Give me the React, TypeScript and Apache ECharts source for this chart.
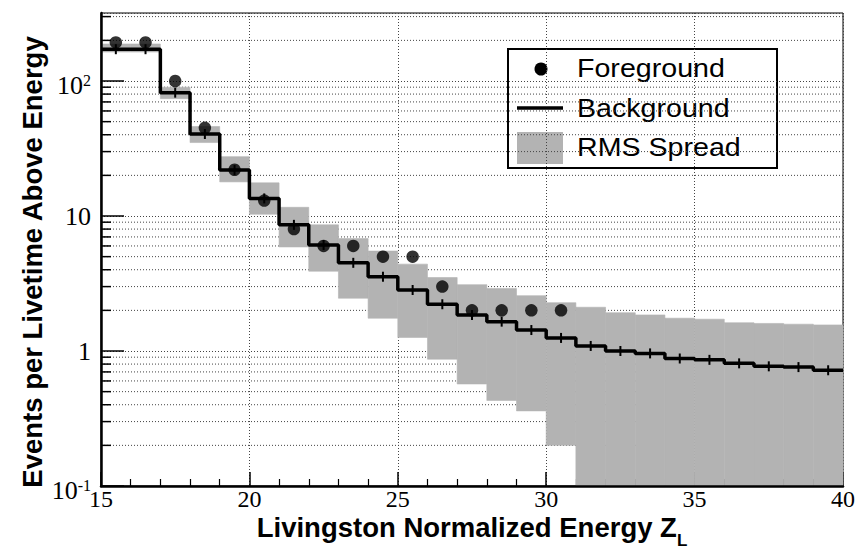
import React, { useEffect, useRef } from "react";
import * as echarts from "echarts";

// ---- data ----
const binStart = [15, 16, 17, 18, 19, 20, 21, 22, 23, 24, 25, 26, 27, 28, 29, 30, 31, 32, 33, 34, 35, 36, 37, 38, 39];
const binWidth = 1;
const background = [172, 172, 82, 40.5, 21.9, 13.5, 8.6, 6.1, 4.5, 3.55, 2.83, 2.22, 1.85, 1.65, 1.43, 1.25, 1.09, 1.0, 0.96, 0.88, 0.86, 0.81, 0.77, 0.76, 0.72];
const rmsHigh = [188, 188, 90, 46, 27.5, 17.6, 11.6, 8.6, 6.8, 5.5, 4.4, 3.5, 3.1, 2.9, 2.57, 2.28, 2.11, 1.92, 1.85, 1.75, 1.72, 1.62, 1.6, 1.58, 1.56];
const rmsLow = [164, 164, 74, 35, 17.9, 10.3, 5.9, 3.9, 2.46, 1.75, 1.26, 0.87, 0.57, 0.43, 0.36, 0.2, 0.1, 0.1, 0.1, 0.1, 0.1, 0.1, 0.1, 0.1, 0.1];
const foreground = [193, 193, 100, 45, 22, 13, 8, 6, 6, 5, 5, 3, 2, 2, 2, 2];
const yMinorTicks = [0.2, 0.3, 0.4, 0.5, 0.6, 0.7, 0.8, 0.9, 2, 3, 4, 5, 6, 7, 8, 9, 20, 30, 40, 50, 60, 70, 80, 90, 200, 300];
const xMin = 15;
const xMax = 40;
const xInterval = 5;
const yMin = 0.1;
const yMax = 319;
const legendLabels = ["Foreground", "Background", "RMS Spread"];
const xTitle = "Livingston Normalized Energy ";
const xTitleSub = "L";
const yTitle = "Events per Livetime Above Energy";

const GRAY = "#b3b3b3";
const SERIF = "'Liberation Serif', 'Times New Roman', serif";
const SANS = "'Liberation Sans', Arial, Helvetica, sans-serif";

function yLabel(v: number): string {
  const e = Math.log10(v);
  const r = Math.round(e);
  if (Math.abs(e - r) > 1e-6) return "";
  if (r === 0) return "{b|1}";
  if (r === 1) return "{b|10}";
  return "{c|10}{s|" + r + "}";
}

export default function App() {
  const ref = useRef<HTMLDivElement>(null);
  useEffect(() => {
    if (!ref.current) return;
    const chart = echarts.init(ref.current, undefined, { renderer: "svg" });

    const stepData = binStart.map((x, i) => [x, background[i]]);
    stepData.push([binStart[binStart.length - 1] + binWidth, background[background.length - 1]]);

    const option: any = {
      animation: false,
      backgroundColor: "#fff",
      grid: {
        left: 101,
        right: 21,
        top: 13,
        bottom: 63,
        containLabel: false,
        outerBoundsMode: "none",
        show: true,
        borderColor: "#000",
        borderWidth: 1,
        backgroundColor: "transparent",
      },
      xAxis: [
        {
          type: "value",
          min: xMin,
          max: xMax,
          interval: xInterval,
          position: "bottom",
          z: 0,
          axisLine: { show: false },
          axisTick: { show: true, inside: true, length: 14, lineStyle: { color: "#000", width: 1.5 } },
          minorTick: { show: true, splitNumber: 5, length: 7, lineStyle: { color: "#000", width: 1.2 } },
          splitLine: { show: true, lineStyle: { color: "#444", width: 1, type: [1, 2] } },
          axisLabel: { fontFamily: SERIF, fontSize: 24, color: "#000", margin: 1 },
          name: xTitle + "Z{sub|" + xTitleSub + "}",
          nameLocation: "middle",
          nameGap: 19.5,
          nameMoveOverlap: false,
          nameTextStyle: {
            fontFamily: SANS,
            fontWeight: "bold",
            fontSize: 27.5,
            color: "#000",
            rich: {
              sub: { fontFamily: SANS, fontSize: 17, color: "#000", padding: [26, 0, 0, 0] },
            },
          },
        },
        {
          type: "value",
          min: xMin,
          max: xMax,
          position: "bottom",
          z: 10,
          axisLine: { show: true, onZero: false, lineStyle: { color: "#000", width: 2.5 } },
          axisTick: { show: false },
          axisLabel: { show: false },
          splitLine: { show: false },
        },
      ],
      yAxis: [
        {
          type: "log",
          logBase: 10,
          min: yMin,
          max: yMax,
          position: "left",
          z: 0,
          axisLine: { show: false },
          axisTick: { show: true, inside: true, length: 23, lineStyle: { color: "#000", width: 1.5 } },
          splitLine: { show: true, lineStyle: { color: "#444", width: 1, type: [1, 2] } },
          axisLabel: {
            color: "#000",
            margin: 10,
            showMaxLabel: false,
            formatter: yLabel,
            rich: {
              b: { fontFamily: SERIF, fontSize: 26, color: "#000" },
              c: { fontFamily: SERIF, fontSize: 26, color: "#000", padding: [9, 0, 0, 0] },
              s: { fontFamily: SERIF, fontSize: 16, color: "#000", padding: [0, 0, 2, 0] },
            },
          },
          name: yTitle,
          nameLocation: "middle",
          nameGap: 55,
          nameMoveOverlap: false,
          nameTextStyle: {
            fontFamily: SANS,
            fontWeight: "bold",
            fontSize: 27.5,
            color: "#000",
            padding: [0, 25, 0, 0],
          },
        },
        {
          type: "log",
          logBase: 10,
          min: yMin,
          max: yMax,
          position: "left",
          z: 10,
          axisLine: { show: true, onZero: false, lineStyle: { color: "#000", width: 2.5 } },
          axisTick: { show: false },
          axisLabel: { show: false },
          splitLine: { show: false },
        },
      ],
      series: [
        {
          name: "minorGrid",
          type: "custom",
          z: 1,
          silent: true,
          xAxisIndex: 0,
          yAxisIndex: 0,
          data: yMinorTicks.map((v) => [xMin, v]),
          renderItem: (params: any, api: any) => {
            const p = api.coord([api.value(0), api.value(1)]);
            const cs = params.coordSys;
            return {
              type: "group",
              children: [
                {
                  type: "line",
                  shape: { x1: cs.x, y1: p[1], x2: cs.x + cs.width, y2: p[1] },
                  style: { stroke: "#444", lineWidth: 1, lineDash: [1, 2] },
                },
                {
                  type: "line",
                  shape: { x1: cs.x, y1: p[1], x2: cs.x + 10, y2: p[1] },
                  style: { stroke: "#000", lineWidth: 1.5 },
                },
              ],
            };
          },
        },
        {
          name: "RMS Spread",
          type: "custom",
          z: 2,
          silent: true,
          xAxisIndex: 0,
          yAxisIndex: 0,
          encode: { x: [0, 1], y: [2, 3] },
          data: binStart.map((x, i) => [x, x + binWidth, rmsLow[i], rmsHigh[i]]),
          renderItem: (params: any, api: any) => {
            const p1 = api.coord([api.value(0), api.value(3)]);
            const p2 = api.coord([api.value(1), api.value(2)]);
            return {
              type: "rect",
              shape: { x: p1[0], y: p1[1], width: p2[0] - p1[0], height: p2[1] - p1[1] },
              style: { fill: GRAY, stroke: GRAY, lineWidth: 0.6 },
            };
          },
        },
        {
          name: "Background",
          type: "line",
          z: 3,
          step: "end",
          symbol: "none",
          silent: true,
          xAxisIndex: 0,
          yAxisIndex: 0,
          data: stepData,
          lineStyle: { color: "#000", width: 3.5 },
        },
        {
          name: "BackgroundErr",
          type: "custom",
          z: 4,
          silent: true,
          xAxisIndex: 0,
          yAxisIndex: 0,
          data: binStart.map((x, i) => [x + binWidth / 2, background[i]]),
          renderItem: (params: any, api: any) => {
            const p = api.coord([api.value(0), api.value(1)]);
            return {
              type: "line",
              shape: { x1: p[0], y1: p[1] - 5, x2: p[0], y2: p[1] + 5 },
              style: { stroke: "#000", lineWidth: 2 },
            };
          },
        },
        {
          name: "Foreground",
          type: "scatter",
          z: 5,
          silent: true,
          xAxisIndex: 0,
          yAxisIndex: 0,
          symbol: "circle",
          symbolSize: 12.5,
          itemStyle: { color: "#000" },
          data: foreground.map((v, i) => [binStart[i] + binWidth / 2, v]),
        },
      ],
      graphic: [
        {
          type: "group",
          z: 100,
          children: [
            {
              type: "rect",
              shape: { x: 508, y: 49, width: 269, height: 119 },
              style: { fill: "#fff", stroke: "#000", lineWidth: 2 },
            },
            { type: "circle", shape: { cx: 541, cy: 69, r: 6.5 }, style: { fill: "#000" } },
            {
              type: "line",
              shape: { x1: 517, y1: 108, x2: 563, y2: 108 },
              style: { stroke: "#000", lineWidth: 3.5 },
            },
            { type: "rect", shape: { x: 517, y: 132, width: 46, height: 32 }, style: { fill: GRAY } },
            {
              type: "text",
              x: 577,
              y: 68,
              scaleX: 1.1,
              style: { text: legendLabels[0], fontFamily: SANS, fontSize: 26, fill: "#000", verticalAlign: "middle" },
            },
            {
              type: "text",
              x: 577,
              y: 108,
              scaleX: 1.1,
              style: { text: legendLabels[1], fontFamily: SANS, fontSize: 26, fill: "#000", verticalAlign: "middle" },
            },
            {
              type: "text",
              x: 577,
              y: 147,
              scaleX: 1.1,
              style: { text: legendLabels[2], fontFamily: SANS, fontSize: 26, fill: "#000", verticalAlign: "middle" },
            },
          ],
        },
      ],
    };

    chart.setOption(option);
    return () => chart.dispose();
  }, []);

  return (
    <div
      ref={ref}
      style={{ position: "fixed", left: 0, top: 0, width: 864, height: 549, background: "#fff" }}
    />
  );
}
